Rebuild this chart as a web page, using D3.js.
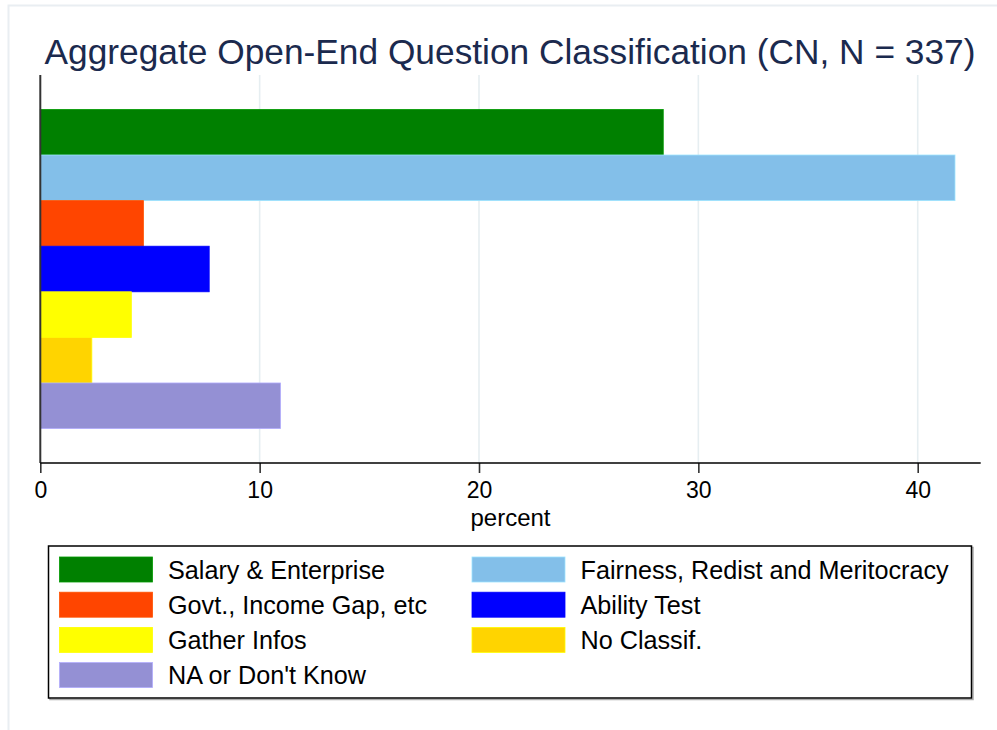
<!DOCTYPE html>
<html>
<head>
<meta charset="utf-8">
<script src="https://cdn.jsdelivr.net/npm/d3@7"></script>
<style>
  html, body { margin: 0; padding: 0; background: #fff; }
  svg { display: block; font-family: "Liberation Sans", Arial, Helvetica, sans-serif; }
</style>
</head>
<body>
<svg id="chart" width="997" height="730"></svg>
<script>
// Response categories, share of answers (percent) and bar colours
const categories = [
  "Salary & Enterprise",
  "Fairness, Redist and Meritocracy",
  "Govt., Income Gap, etc",
  "Ability Test",
  "Gather Infos",
  "No Classif.",
  "NA or Don't Know"
];
const percents = [28.4, 41.7, 4.7, 7.7, 4.15, 2.35, 10.95];
const colors = ["#008000", "#83bfe9", "#ff4500", "#0000ff", "#ffff00", "#ffd400", "#9490d4"];
const xTicks = [0, 10, 20, 30, 40];
const titleText = "Aggregate Open-End Question Classification (CN, N = 337)";
const xLabel = "percent";

const data = categories.map((c, i) => ({ name: c, value: percents[i], color: colors[i] }));

const svg = d3.select("#chart");

// faint outer frame of the graph region
svg.append("rect")
  .attr("x", 8.5).attr("y", 5.5)
  .attr("width", 1000).attr("height", 730)
  .attr("fill", "none").attr("stroke", "#e9eef2").attr("stroke-width", 2);

const plot = { left: 40.3, right: 980.7, top: 75, bottom: 463 };

const x = d3.scaleLinear().domain([0, 40]).range([plot.left, 917.7]);
const y = d3.scaleBand()
  .domain(categories)
  .range([plot.top, plot.bottom])
  .paddingInner(0)
  .paddingOuter(0.755);

// title
svg.append("text")
  .attr("x", 510).attr("y", 64)
  .attr("text-anchor", "middle")
  .attr("font-size", 35.3)
  .attr("fill", "#1b2a4e")
  .text(titleText);

// vertical gridlines
svg.append("g").selectAll("line")
  .data(xTicks.filter(t => t > 0))
  .join("line")
  .attr("x1", d => x(d)).attr("x2", d => x(d))
  .attr("y1", plot.top).attr("y2", plot.bottom)
  .attr("stroke", "#e6eef1").attr("stroke-width", 1.6);

// bars
svg.append("g").selectAll("rect")
  .data(data)
  .join("rect")
  .attr("x", x(0))
  .attr("y", d => y(d.name))
  .attr("width", d => x(d.value) - x(0))
  .attr("height", y.bandwidth())
  .attr("fill", d => d.color)
  .attr("stroke", d => d3.color(d.color).brighter(0.5))
  .attr("stroke-width", 0.8);

// y axis line
svg.append("line")
  .attr("x1", plot.left).attr("x2", plot.left)
  .attr("y1", plot.top).attr("y2", plot.bottom)
  .attr("stroke", "#333").attr("stroke-width", 2);

// x axis
const xAxis = d3.axisBottom(x)
  .tickValues(xTicks)
  .tickSize(10)
  .tickPadding(8)
  .tickSizeOuter(0)
  .tickFormat(d3.format("d"));

const gx = svg.append("g")
  .attr("transform", `translate(0,${plot.bottom})`)
  .call(xAxis);
gx.select(".domain").remove();
gx.append("line")
  .attr("x1", plot.left).attr("x2", plot.right)
  .attr("y1", 0).attr("y2", 0)
  .attr("stroke", "#000").attr("stroke-width", 1.6);
gx.selectAll(".tick line").attr("stroke", "#333").attr("stroke-width", 1.6);
gx.selectAll(".tick text")
  .attr("y", 35)
  .attr("dy", 0)
  .attr("font-size", 23)
  .attr("fill", "#000")
  .attr("font-family", "Liberation Sans, Arial, sans-serif");

// x axis title
svg.append("text")
  .attr("x", (plot.left + plot.right) / 2).attr("y", 526)
  .attr("text-anchor", "middle")
  .attr("font-size", 24)
  .attr("fill", "#000")
  .text(xLabel);

// legend
const legend = { x: 48.5, y: 546, w: 923, h: 152 };
svg.append("rect")
  .attr("x", legend.x + 1.5).attr("y", legend.y + 1.5)
  .attr("width", legend.w).attr("height", legend.h)
  .attr("fill", "none").attr("stroke", "#aaa").attr("stroke-width", 1.5);
svg.append("rect")
  .attr("x", legend.x).attr("y", legend.y)
  .attr("width", legend.w).attr("height", legend.h)
  .attr("fill", "#fff").attr("stroke", "#000").attr("stroke-width", 1.5);

const colX = [59.5, 472];
const rowY0 = 557, rowStep = 35.2;
const items = svg.append("g").selectAll("g")
  .data(data)
  .join("g")
  .attr("transform", (d, i) => `translate(${colX[i % 2]},${rowY0 + Math.floor(i / 2) * rowStep})`);
items.append("rect")
  .attr("width", 93).attr("height", 25)
  .attr("fill", d => d.color)
  .attr("stroke", d => d3.color(d.color).brighter(0.5))
  .attr("stroke-width", 0.8);
items.append("text")
  .attr("x", 108.5).attr("y", 12.5)
  .attr("dy", "0.36em")
  .attr("font-size", 25.2)
  .attr("fill", "#000")
  .text(d => d.name);
</script>
</body>
</html>
